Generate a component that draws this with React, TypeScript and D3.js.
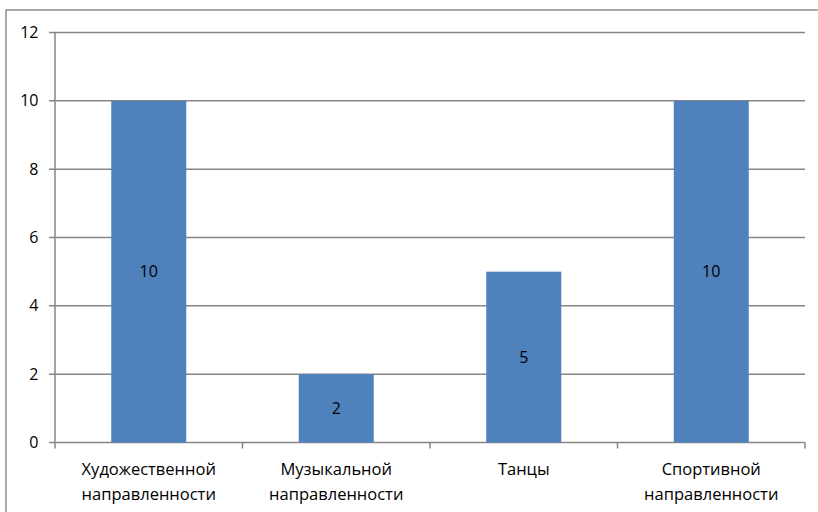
import React from "react";
import * as d3 from "d3";

const categories: string[][] = [
  ["Художественной", "направленности"],
  ["Музыкальной", "направленности"],
  ["Танцы"],
  ["Спортивной", "направленности"],
];
const values: number[] = [10, 2, 5, 10];
const yTicks: number[] = [0, 2, 4, 6, 8, 10, 12];

const W = 818;
const H = 512;
const left = 55;
const right = 805;
const top = 32.5;
const bottom = 442.5;
const font = "'Open Sans', 'Liberation Sans', sans-serif";

export default function App() {
  const x = d3
    .scaleBand<number>()
    .domain(values.map((_, i) => i))
    .range([left, right])
    .paddingInner(0.6)
    .paddingOuter(0.3);
  const band = d3.scaleBand<number>().domain(values.map((_, i) => i)).range([left, right]);
  const y = d3.scaleLinear().domain([0, 12]).range([bottom, top]);
  const grey = "#868686";

  return (
    <svg
      width={W}
      height={H}
      style={{ position: "absolute", left: 0, top: 0, background: "#fff" }}
    >
      <rect x={6} y={10} width={W} height={H} fill="#fff" stroke="#8c8c8c" strokeWidth={1.5} />
      {yTicks.map((t) => (
        <g key={t}>
          <line x1={left - 6} x2={right} y1={y(t)} y2={y(t)} stroke={grey} strokeWidth={1.5} />
          <text
            x={38.5}
            y={y(t)}
            dy="0.35em"
            textAnchor="end"
            fontFamily={font}
            fontSize={16}
            fill="#000"
          >
            {t}
          </text>
        </g>
      ))}
      <line x1={left} x2={left} y1={top} y2={bottom} stroke={grey} strokeWidth={1.5} />
      {values.map((_, i) => (
        <line
          key={"t" + i}
          x1={band(i)!}
          x2={band(i)!}
          y1={bottom}
          y2={bottom + 6}
          stroke={grey}
          strokeWidth={1.5}
        />
      ))}
      <line x1={right} x2={right} y1={bottom} y2={bottom + 6} stroke={grey} strokeWidth={1.5} />
      {values.map((v, i) => (
        <g key={"b" + i}>
          <rect x={x(i)!} y={y(v)} width={x.bandwidth()} height={bottom - y(v)} fill="#4F81BD" />
          <text
            x={x(i)! + x.bandwidth() / 2}
            y={(y(v) + bottom) / 2}
            dy="0.35em"
            textAnchor="middle"
            fontFamily={font}
            fontSize={16}
            fill="#000"
          >
            {v}
          </text>
        </g>
      ))}
      {categories.map((lines, i) => (
        <text
          key={"c" + i}
          x={band(i)! + band.bandwidth() / 2}
          y={475}
          textAnchor="middle"
          fontFamily={font}
          fontSize={16.5}
          fill="#000"
        >
          {lines.map((l, j) => (
            <tspan key={j} x={band(i)! + band.bandwidth() / 2} y={475 + j * 25}>
              {l}
            </tspan>
          ))}
        </text>
      ))}
    </svg>
  );
}
